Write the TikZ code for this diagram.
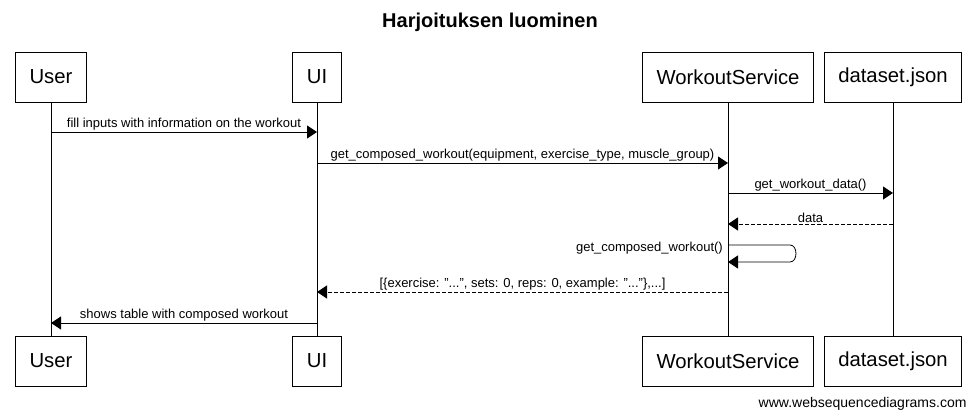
\documentclass[tikz,border=0pt]{standalone}
\usepackage{fontspec}
\setmainfont{Liberation Sans}
\usetikzlibrary{arrows.meta}
\newcommand\dq{\symbol{34}}
\begin{document}
\begin{tikzpicture}[x=1pt,y=-1pt,
  actor/.style={draw,line width=0.8pt,minimum height=50pt,inner xsep=14pt,font=\fontsize{20.3}{23}\selectfont,anchor=center},
  life/.style={line width=0.8pt},
  msg/.style={line width=0.8pt,-{Triangle[length=10pt,width=13pt]}},
  ret/.style={msg,dashed,dash pattern=on 4pt off 2pt},
  lbl/.style={font=\fontsize{13}{15}\selectfont,inner sep=1pt,anchor=south}]
\useasboundingbox (0,0) rectangle (976,419);
\node[font=\bfseries\fontsize{20}{23}\selectfont] (title) at (490,22) {Harjoituksen luominen};
% top actors
\node[actor,minimum width=70pt] (ut) at (51,77) {User};
\node[actor,minimum width=47pt] (it) at (317,77) {UI};
\node[actor,minimum width=169pt] (wt) at (728,77) {WorkoutService};
\node[actor,minimum width=135pt] (dt) at (893,77) {dataset.json};
% bottom actors
\node[actor,minimum width=70pt] (ub) at (51,361) {User};
\node[actor,minimum width=47pt] (ib) at (317,361) {UI};
\node[actor,minimum width=169pt] (wb) at (728,361) {WorkoutService};
\node[actor,minimum width=135pt] (db) at (893,361) {dataset.json};
% lifelines
\draw[life] (ut.south) -- (ub.north);
\draw[life] (it.south) -- (ib.north);
\draw[life] (wt.south) -- (wb.north);
\draw[life] (dt.south) -- (db.north);
% message coordinates
\coordinate (u1) at (51,132); \coordinate (i1) at (317,132);
\coordinate (i2) at (317,163); \coordinate (w2) at (728,163);
\coordinate (w3) at (728,193); \coordinate (d3) at (893,193);
\coordinate (d4) at (893,224); \coordinate (w4) at (728,224);
\coordinate (w5a) at (728,245); \coordinate (w5b) at (728,262);
\coordinate (w6) at (728,292); \coordinate (i6) at (317,292);
\coordinate (i7) at (317,323); \coordinate (u7) at (51,323);
\draw[msg] (u1) -- node[lbl] {fill inputs with information on the workout} (i1);
\draw[msg] (i2) -- node[lbl] {get\_composed\_workout(equipment, exercise\_type, muscle\_group)} (w2);
\draw[msg] (w3) -- node[lbl] {get\_workout\_data()} (d3);
\draw[ret] (d4) -- node[lbl] {data} (w4);
\draw[msg] (w5a) -- (790,245) to[out=0,in=0,looseness=1.2] (790,262) -- (w5b);
\node[lbl,anchor=south east] (sl) at (724,255) {get\_composed\_workout()};
\draw[ret] (w6) -- node[lbl] {[\{exercise: \dq...\dq, sets: 0, reps: 0, example: \dq...\dq\},...]} (i6);
\draw[msg] (i7) -- node[lbl] {shows table with composed workout} (u7);
\node[font=\fontsize{14}{16}\selectfont,anchor=east] (footer) at (970,404) {www.websequencediagrams.com};
\end{tikzpicture}
\end{document}
